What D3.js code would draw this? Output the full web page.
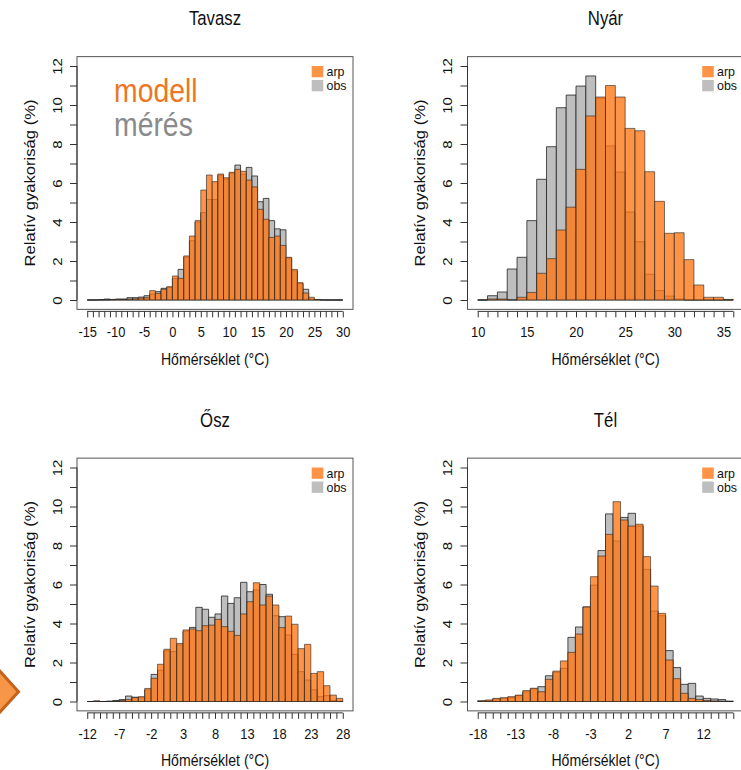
<!DOCTYPE html>
<html>
<head>
<meta charset="utf-8">
<script src="https://cdn.jsdelivr.net/npm/d3@7"></script>
<style>
  html, body { margin: 0; padding: 0; background: #fff; }
  svg { display: block; font-family: "Liberation Sans", Arial, Helvetica, sans-serif; }
</style>
</head>
<body>
<svg id="chart" width="741" height="770"></svg>
<script>
// Relative frequency (%) of daily temperature in 1 °C bins, model (arp) vs. observations (obs)
const seasons = ["Tavasz", "Nyár", "Ősz", "Tél"];
const binStart = [-15, 10, -12, -18];
const binEnd = [30, 36, 28, 16];
const tickLabels = [
  [-15, -10, -5, 0, 5, 10, 15, 20, 25, 30],
  [10, 15, 20, 25, 30, 35],
  [-12, -7, -2, 3, 8, 13, 18, 23, 28],
  [-18, -13, -8, -3, 2, 7, 12]
];
const yTickValues = [0, 1, 2, 3, 4, 5, 6, 7, 8, 9, 10, 11, 12];
const yTickLabels = [0, 2, 4, 6, 8, 10, 12];
const seriesNames = ["arp", "obs"];

const arpTavasz = [0, 0, 0, 0, 0.02, 0.03, 0.03, 0.05, 0.06, 0.1, 0.12, 0.48, 0.34, 0.55, 0.68, 1.23, 1.11, 2.26, 3.28, 4.07,
  5.64, 6.41, 6.07, 6.46, 6.27, 6.55, 6.7, 6.6, 6.15, 5.8, 4.65, 4.14, 3.21, 3.28, 2.8, 2.19, 1.57, 0.89, 0.36, 0.14,
  0.03, 0.01, 0, 0, 0];
const obsTavasz = [0, 0, 0.02, 0.05, 0.03, 0.05, 0.05, 0.12, 0.12, 0.15, 0.22, 0.3, 0.43, 0.6, 0.65, 1.1, 1.57, 2.2, 3.04, 4.0,
  4.48, 5.15, 5.15, 6.4, 6.2, 6.5, 6.92, 6.45, 6.8, 6.36, 5.04, 5.21, 4.07, 3.65, 3.6, 2.15, 1.5, 0.85, 0.55, 0.05,
  0.02, 0, 0, 0, 0];

const arpNyar = [0, 0.05, 0.05, 0, 0.14, 0.39, 1.37, 2.12, 3.59, 4.76, 6.7, 9.44, 10.41, 11.0, 10.41, 8.8, 8.68, 6.58, 5.06, 3.42,
  3.45, 2.07, 0.77, 0.14, 0.14, 0.03];
const obsNyar = [0, 0.22, 0.41, 1.59, 2.19, 4.07, 6.19, 7.86, 9.86, 10.51, 10.97, 11.49, 10.35, 7.9, 6.56, 4.51, 2.99, 1.32, 0.48, 0.2,
  0.05, 0, 0, 0, 0, 0];

const arpOsz = [0, 0.03, 0, 0, 0.02, 0.05, 0.1, 0.2, 0.25, 0.67, 1.19, 1.91, 2.68, 3.24, 2.98, 3.67, 3.72, 3.63, 3.89, 3.92,
  4.21, 3.84, 3.6, 3.39, 4.49, 5.12, 6.09, 4.95, 5.41, 4.95, 3.79, 4.38, 3.96, 2.71, 2.93, 1.44, 1.53, 0.81, 0.33, 0.16];
const obsOsz = [0, 0.02, 0, 0.02, 0.05, 0.1, 0.28, 0.22, 0.2, 0.6, 1.39, 1.6, 2.6, 2.56, 2.9, 3.6, 3.8, 4.83, 4.73, 4.32,
  4.49, 5.41, 5.03, 5.32, 6.11, 5.63, 5.72, 6.0, 5.5, 4.4, 4.35, 3.41, 2.42, 1.53, 1.1, 0.6, 0.25, 0.3, 0.05, 0.02];

const arpTel = [0.04, 0.08, 0.16, 0.2, 0.25, 0.33, 0.56, 0.68, 0.5, 1.14, 1.56, 2.08, 2.52, 3.46, 4.85, 6.4, 7.46, 8.57, 10.25, 9.31,
  9.0, 9.09, 7.43, 5.92, 4.52, 2.13, 1.17, 0.42, 0.16, 0.1, 0.05, 0.03, 0.02, 0];
const obsTel = [0.02, 0.05, 0.12, 0.15, 0.2, 0.3, 0.5, 0.65, 0.76, 1.32, 1.5, 1.7, 3.29, 3.82, 4.85, 5.97, 7.74, 9.62, 8.23, 9.44,
  9.65, 9.0, 6.78, 4.64, 4.4, 2.61, 1.74, 0.88, 0.93, 0.28, 0.16, 0.13, 0.1, 0.02];

const arpSeries = [arpTavasz, arpNyar, arpOsz, arpTel];
const obsSeries = [obsTavasz, obsNyar, obsOsz, obsTel];

// Layout
const boxW = 276;          // plot-box width
const unitPx = 19.5;       // pixels per 1 % on the y axis
const panelLeft = [77, 467.5, 77, 467.5];
const panelBase = [300, 300, 701.5, 701.5];   // y pixel of 0 %
const SX = 0.86;           // horizontal squeeze of the lettering

const colArp = "rgba(255,118,18,0.78)";
const colObs = "#bebebe";
const colArpKey = "#ff9446";

const svg = d3.select("#chart");

function squeezed(g, x, y, str, size, opts = {}) {
  const rot = opts.rotate ? ` rotate(${opts.rotate})` : "";
  const sx = opts.sx || SX;
  return g.append("text")
    .attr("transform", `translate(${x},${y}) scale(${sx},1)${rot}`)
    .attr("text-anchor", opts.anchor || "middle")
    .attr("dy", opts.dy || null)
    .attr("font-size", size)
    .attr("fill", opts.fill || "#111")
    .text(str);
}

// Decorative arrow marker at the lower-left edge
svg.append("polygon")
  .attr("points", "-22,647 18.5,691.7 -22,736")
  .attr("fill", "#f79646")
  .attr("stroke", "#c4621c")
  .attr("stroke-width", 3)
  .attr("stroke-linejoin", "miter");

seasons.forEach((name, i) => {
  const start = binStart[i], end = binEnd[i];
  const R = end - start;
  const left = panelLeft[i], base = panelBase[i];
  const x = d3.scaleLinear().domain([start - 0.04 * R, end + 0.04 * R]).range([left, left + boxW]);
  const y = d3.scaleLinear().domain([0, 12]).range([base, base - 12 * unitPx]);
  const boxTop = y(12.48), boxBottom = y(-0.48);
  const bins = d3.range(start, end);
  const g = svg.append("g");

  const barPath = (v, k) => {
    const x0 = x(bins[k]), x1 = x(bins[k] + 1), y0 = y(0), y1 = y(v);
    return `M${x0},${y0}V${y1}H${x1}V${y0}Z`;
  };

  // observations underneath, model on top (semi-transparent)
  g.append("g").selectAll("path").data(obsSeries[i]).join("path")
    .attr("d", barPath)
    .attr("fill", colObs)
    .attr("stroke", "rgba(35,35,35,0.8)")
    .attr("stroke-width", 1);
  g.append("g").selectAll("path").data(arpSeries[i]).join("path")
    .attr("d", barPath)
    .attr("fill", colArp)
    .attr("stroke", "rgba(35,35,35,0.6)")
    .attr("stroke-width", 1);

  // plot box
  g.append("rect")
    .attr("x", left).attr("y", boxTop)
    .attr("width", boxW).attr("height", boxBottom - boxTop)
    .attr("fill", "none").attr("stroke", "#555").attr("stroke-width", 1);

  // x axis
  const axisY = boxBottom + 2;
  const xAxis = d3.axisBottom(x)
    .tickValues(d3.range(start, end + 1))
    .tickSize(6).tickSizeOuter(0).tickPadding(9)
    .tickFormat(v => tickLabels[i].includes(v) ? String(v) : "");
  const gx = g.append("g").attr("transform", `translate(0,${axisY})`).call(xAxis);
  gx.select(".domain").attr("d", `M${x(start)},0H${x(end)}`).attr("stroke", "#333");
  gx.selectAll(".tick line").attr("stroke", "#333");
  gx.selectAll(".tick text")
    .attr("font-size", 15)
    .attr("font-family", "Liberation Sans, Arial, sans-serif")
    .attr("fill", "#111")
    .attr("transform", `scale(${SX},1)`);
  gx.attr("font-family", null).attr("font-size", null);

  // y axis
  const yAxis = d3.axisLeft(y)
    .tickValues(yTickValues)
    .tickSize(7).tickSizeOuter(0)
    .tickFormat(v => yTickLabels.includes(v) ? String(v) : "");
  const gy = g.append("g").attr("transform", `translate(${left},0)`).call(yAxis);
  gy.select(".domain").attr("d", `M0,${y(0)}V${y(12)}`).attr("stroke", "#333");
  gy.selectAll(".tick line").attr("stroke", "#333");
  gy.selectAll(".tick text")
    .attr("x", null).attr("dy", "0.35em")
    .attr("text-anchor", "middle")
    .attr("font-size", 15)
    .attr("font-family", "Liberation Sans, Arial, sans-serif")
    .attr("fill", "#111")
    .attr("transform", `translate(-20,0) scale(${SX},1) rotate(-90)`);
  gy.attr("font-family", null).attr("font-size", null);

  // titles
  const cx = left + boxW / 2;
  squeezed(g, cx, base - 275, name, 19.5);
  squeezed(g, cx, base + 64.5, "Hőmérséklet (°C)", 16.4);
  squeezed(g, left - 47, y(6), "Relatív gyakoriság (%)", 16.6, { rotate: -90, dy: "0.35em" });

  // legend
  const right = left + boxW;
  const keyCols = [colArpKey, colObs];
  seriesNames.forEach((s, j) => {
    const ky = y(12) + j * 14;
    g.append("rect")
      .attr("x", right - 41.3).attr("y", ky)
      .attr("width", 11.6).attr("height", 11.3)
      .attr("fill", keyCols[j]);
    squeezed(g, right - 26.5, ky + 10, s, 12.4, { anchor: "start", sx: 1 });
  });
});

// key words inside the spring panel
const big = svg.append("g");
squeezed(big, 114, 101.7, "modell", 33, { anchor: "start", fill: "#ee7622" });
squeezed(big, 114, 136, "mérés", 33, { anchor: "start", fill: "#8a8a8a" });
</script>
</body>
</html>
